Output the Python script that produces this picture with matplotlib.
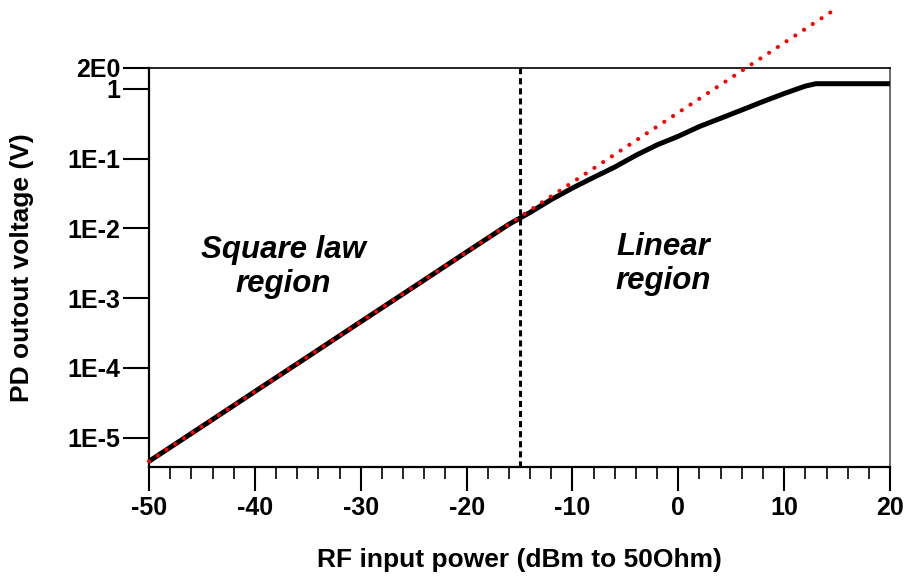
import numpy as np
import matplotlib
matplotlib.use('Agg')
import matplotlib.pyplot as plt
from matplotlib.ticker import FixedLocator, MultipleLocator, NullLocator

plt.rcParams['font.family'] = ['Liberation Sans', 'DejaVu Sans']
plt.rcParams['font.weight'] = 'bold'
plt.rcParams['axes.unicode_minus'] = False

# measured detector output (black curve)
p_meas = [-50, -45, -40, -35, -30, -25, -20, -16, -14, -12, -10, -8, -6, -4,
          -2, 0, 2, 4, 6, 8, 10, 12, 13, 20]
v_meas = [4.6e-6, 1.45e-5, 4.6e-5, 1.45e-4, 4.6e-4, 1.45e-3, 4.6e-3, 1.15e-2,
          1.7e-2, 2.6e-2, 3.8e-2, 5.4e-2, 7.6e-2, 0.112, 0.158, 0.21, 0.29,
          0.38, 0.50, 0.66, 0.86, 1.10, 1.19, 1.19]

# square law fit (red dotted)
p_fit = [-50, 15]
v_fit = [4.6e-6, 14.5]

p_split = -15

yticks = [2, 1, 1e-1, 1e-2, 1e-3, 1e-4, 1e-5]
ytick_labels = ['2E0', '1', '1E-1', '1E-2', '1E-3', '1E-4', '1E-5']

fig = plt.figure(figsize=(9.07, 5.86), dpi=100)
ax = fig.add_axes([0.1643, 0.2031, 0.817, 0.6809])

ax.plot(p_meas, v_meas, color='black', lw=3.6, solid_capstyle='butt', zorder=3)
ax.plot(p_fit, v_fit, color='red', lw=3.0, linestyle=(0, (0.01, 2.5)),
        dash_capstyle='round', zorder=4, clip_on=False)
ax.axvline(p_split, color='black', lw=2.2, linestyle=(0, (2.0, 1.3)), zorder=2)

ax.set_yscale('log')
ax.set_xlim(-50, 20)
ax.set_ylim(3.81e-6, 2)

ax.yaxis.set_major_locator(FixedLocator(yticks))
ax.yaxis.set_minor_locator(NullLocator())
ax.set_yticklabels(ytick_labels)
ax.xaxis.set_major_locator(MultipleLocator(10))
ax.xaxis.set_minor_locator(MultipleLocator(2))

ax.tick_params(axis='y', which='major', direction='out', length=18.5, width=1.5,
               labelsize=18, pad=2)
ax.tick_params(axis='x', which='major', direction='out', length=17, width=1.5,
               labelsize=18, pad=4)
ax.tick_params(axis='x', which='minor', direction='out', length=8.5, width=1.2)

for s in ['left', 'bottom']:
    ax.spines[s].set_linewidth(1.6)
ax.spines['top'].set_linewidth(1.2)
ax.spines['right'].set_linewidth(1.2)
ax.spines['right'].set_color('#555555')

ax.set_xlabel('RF input power (dBm to 50Ohm)', fontsize=19, fontweight='bold')
ax.set_ylabel('PD outout voltage (V)', fontsize=19, fontweight='bold')
ax.xaxis.set_label_coords(0.5, -0.233)
ax.xaxis.label.set_va('center')
ax.yaxis.set_label_coords(-0.171, 0.5)
ax.yaxis.label.set_va('center')

ax.text(-37.3, 2.8e-3, 'Square law\nregion', fontsize=22.5, fontweight='bold',
        fontstyle='italic', ha='center', va='center', linespacing=1.15)
ax.text(-1.4, 3.1e-3, 'Linear\nregion', fontsize=22.5, fontweight='bold',
        fontstyle='italic', ha='center', va='center', linespacing=1.15)

fig.savefig('out.png', dpi=100)
